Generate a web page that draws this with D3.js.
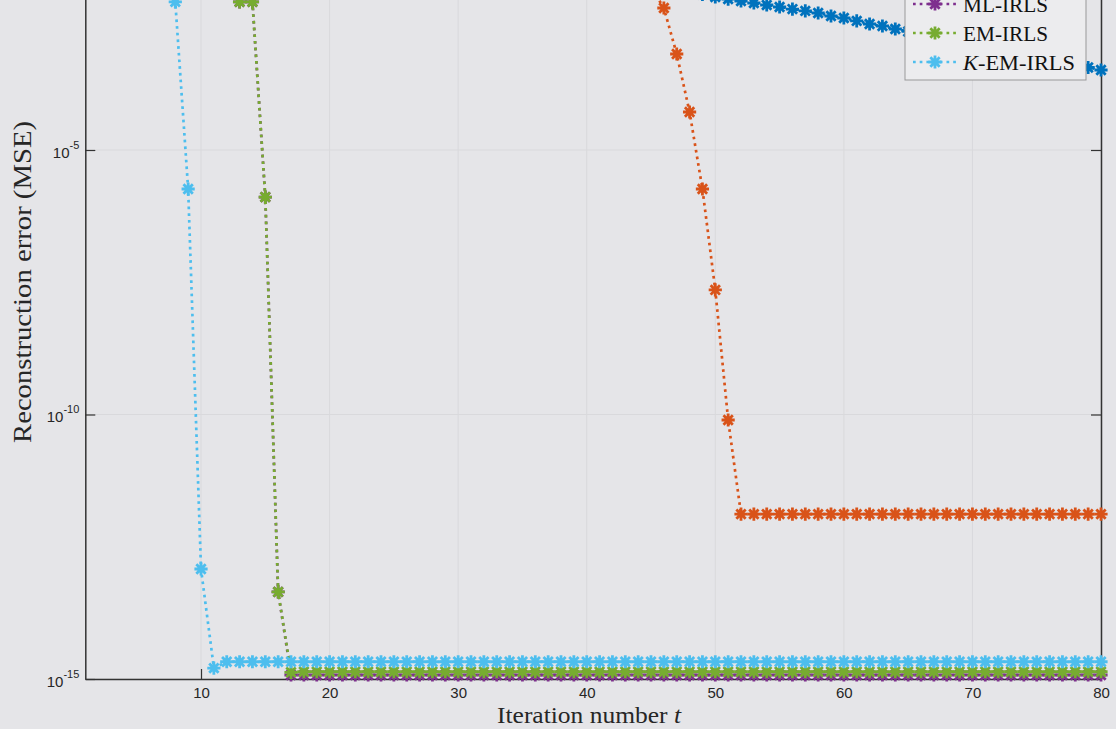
<!DOCTYPE html>
<html><head><meta charset="utf-8">
<script src="https://cdn.jsdelivr.net/npm/d3@7"></script>
<style>html,body{margin:0;padding:0;background:#e5e5e8;} svg{display:block}</style>
</head><body><svg id="c" width="1116" height="729"></svg>
<script>
// ---------------- data ----------------
const iterations = d3.range(1, 81);
const xTicks = [10, 20, 30, 40, 50, 60, 70, 80];
const yTicks = [1e-15, 1e-10, 1e-5, 1e0];
const yTickExp = ["-15", "-10", "-5", ""];
const legendNames = ["ML-IRLS", "EM-IRLS", "K-EM-IRLS"];

const series1MSE = [
  1.6, 1.45, 1.3, 1.17, 1.05, 9.4e-1, 8.5e-1, 7.6e-1, 6.8e-1, 6.1e-1,
  5.5e-1, 4.9e-1, 4.4e-1, 3.95e-1, 3.55e-1, 3.2e-1, 2.85e-1, 2.55e-1, 2.3e-1, 2.05e-1,
  1.84e-1, 1.65e-1, 1.48e-1, 1.33e-1, 1.19e-1, 1.07e-1, 9.6e-2, 8.6e-2, 7.7e-2, 6.9e-2,
  6.2e-2, 5.6e-2, 5.0e-2, 4.5e-2, 4.0e-2, 3.6e-2, 3.2e-2, 2.9e-2, 2.6e-2, 2.3e-2,
  2.07e-2, 1.86e-2, 1.67e-2, 1.5e-2, 1.34e-2, 1.2e-2, 1.08e-2, 9.7e-3, 8.7e-3, 7.8e-3,
  7.14e-3, 6.56e-3, 6.01e-3, 5.51e-3, 5.05e-3, 4.62e-3, 4.25e-3, 3.89e-3, 3.41e-3, 3.13e-3,
  2.75e-3, 2.41e-3, 2.21e-3, 1.94e-3, 1.74e-3, 1.56e-3, 1.40e-3, 1.25e-3, 1.12e-3, 1.01e-3,
  8.85e-4, 7.94e-4, 7.13e-4, 6.38e-4, 5.73e-4, 5.13e-4, 4.61e-4, 4.05e-4, 3.63e-4, 3.25e-4
];
const series2MSE = [
  5.0e-1, 4.3e-1, 3.8e-1, 3.4e-1, 3.0e-1, 2.7e-1, 2.4e-1, 2.2e-1, 2.0e-1, 1.8e-1,
  1.65e-1, 1.5e-1, 1.38e-1, 1.27e-1, 1.17e-1, 1.08e-1, 1.0e-1, 9.3e-2, 8.7e-2, 8.1e-2,
  7.6e-2, 7.1e-2, 6.7e-2, 6.3e-2, 5.9e-2, 5.6e-2, 5.3e-2, 5.0e-2, 4.7e-2, 4.5e-2,
  4.3e-2, 4.1e-2, 3.9e-2, 3.7e-2, 3.5e-2, 3.3e-2, 3.1e-2, 2.9e-2, 2.7e-2, 2.5e-2,
  2.3e-2, 2.1e-2, 1.9e-2, 1.6e-2, 1.2e-2, 4.83e-3, 6.53e-4, 5.23e-5, 1.83e-6, 2.26e-8,
  7.87e-11, 1.31e-12, 1.31e-12, 1.31e-12, 1.31e-12, 1.31e-12, 1.31e-12, 1.31e-12, 1.31e-12, 1.31e-12,
  1.31e-12, 1.31e-12, 1.31e-12, 1.31e-12, 1.31e-12, 1.31e-12, 1.31e-12, 1.31e-12, 1.31e-12, 1.31e-12,
  1.31e-12, 1.31e-12, 1.31e-12, 1.31e-12, 1.31e-12, 1.31e-12, 1.31e-12, 1.31e-12, 1.31e-12, 1.31e-12
];
const mlIrlsMSE = [
  8.0e-1, 6.0e-1, 4.5e-1, 3.4e-1, 2.6e-1, 2.0e-1, 1.5e-1, 1.1e-1, 8.0e-2, 5.5e-2,
  3.6e-2, 2.2e-2, 6.3e-3, 6.3e-3, 1.29e-6, 4.42e-14, 1.19e-15, 1.19e-15, 1.19e-15, 1.19e-15,
  1.19e-15, 1.19e-15, 1.19e-15, 1.19e-15, 1.19e-15, 1.19e-15, 1.19e-15, 1.19e-15, 1.19e-15, 1.19e-15,
  1.19e-15, 1.19e-15, 1.19e-15, 1.19e-15, 1.19e-15, 1.19e-15, 1.19e-15, 1.19e-15, 1.19e-15, 1.19e-15,
  1.19e-15, 1.19e-15, 1.19e-15, 1.19e-15, 1.19e-15, 1.19e-15, 1.19e-15, 1.19e-15, 1.19e-15, 1.19e-15,
  1.19e-15, 1.19e-15, 1.19e-15, 1.19e-15, 1.19e-15, 1.19e-15, 1.19e-15, 1.19e-15, 1.19e-15, 1.19e-15,
  1.19e-15, 1.19e-15, 1.19e-15, 1.19e-15, 1.19e-15, 1.19e-15, 1.19e-15, 1.19e-15, 1.19e-15, 1.19e-15,
  1.19e-15, 1.19e-15, 1.19e-15, 1.19e-15, 1.19e-15, 1.19e-15, 1.19e-15, 1.19e-15, 1.19e-15, 1.19e-15
];
const emIrlsMSE = [
  8.0e-1, 6.0e-1, 4.5e-1, 3.4e-1, 2.6e-1, 2.0e-1, 1.5e-1, 1.1e-1, 8.0e-2, 5.5e-2,
  3.6e-2, 2.2e-2, 6.3e-3, 6.3e-3, 1.29e-6, 4.42e-14, 1.34e-15, 1.37e-15, 1.37e-15, 1.37e-15,
  1.37e-15, 1.37e-15, 1.37e-15, 1.37e-15, 1.37e-15, 1.37e-15, 1.37e-15, 1.37e-15, 1.37e-15, 1.37e-15,
  1.37e-15, 1.37e-15, 1.37e-15, 1.37e-15, 1.37e-15, 1.37e-15, 1.37e-15, 1.37e-15, 1.37e-15, 1.37e-15,
  1.37e-15, 1.37e-15, 1.37e-15, 1.37e-15, 1.37e-15, 1.37e-15, 1.37e-15, 1.37e-15, 1.37e-15, 1.37e-15,
  1.37e-15, 1.37e-15, 1.37e-15, 1.37e-15, 1.37e-15, 1.37e-15, 1.37e-15, 1.37e-15, 1.37e-15, 1.37e-15,
  1.37e-15, 1.37e-15, 1.37e-15, 1.37e-15, 1.37e-15, 1.37e-15, 1.37e-15, 1.37e-15, 1.37e-15, 1.37e-15,
  1.37e-15, 1.37e-15, 1.37e-15, 1.37e-15, 1.37e-15, 1.37e-15, 1.37e-15, 1.37e-15, 1.37e-15, 1.37e-15
];
const kEmIrlsMSE = [
  7.0e-1, 4.5e-1, 2.8e-1, 1.7e-1, 1.0e-1, 5.5e-2, 2.4e-2, 6.3e-3, 1.83e-6, 1.2e-13,
  1.61e-15, 2.12e-15, 2.12e-15, 2.12e-15, 2.12e-15, 2.12e-15, 2.12e-15, 2.12e-15, 2.12e-15, 2.12e-15,
  2.12e-15, 2.12e-15, 2.12e-15, 2.12e-15, 2.12e-15, 2.12e-15, 2.12e-15, 2.12e-15, 2.12e-15, 2.12e-15,
  2.12e-15, 2.12e-15, 2.12e-15, 2.12e-15, 2.12e-15, 2.12e-15, 2.12e-15, 2.12e-15, 2.12e-15, 2.12e-15,
  2.12e-15, 2.12e-15, 2.12e-15, 2.12e-15, 2.12e-15, 2.12e-15, 2.12e-15, 2.12e-15, 2.12e-15, 2.12e-15,
  2.12e-15, 2.12e-15, 2.12e-15, 2.12e-15, 2.12e-15, 2.12e-15, 2.12e-15, 2.12e-15, 2.12e-15, 2.12e-15,
  2.12e-15, 2.12e-15, 2.12e-15, 2.12e-15, 2.12e-15, 2.12e-15, 2.12e-15, 2.12e-15, 2.12e-15, 2.12e-15,
  2.12e-15, 2.12e-15, 2.12e-15, 2.12e-15, 2.12e-15, 2.12e-15, 2.12e-15, 2.12e-15, 2.12e-15, 2.12e-15
];

const seriesList = [
  {values: series1MSE, color: "#0072BD"},
  {values: series2MSE, color: "#D95319"},
  {values: mlIrlsMSE, color: "#7E2F8E"},
  {values: emIrlsMSE, color: "#77AC30"},
  {values: kEmIrlsMSE, color: "#4DBEEE"}
];

// ---------------- layout ----------------
const W = 1116, H = 729;
const L = 85.3, R = 1101, B = 679, decade = 52.9;
const T = B - 15 * decade;
const svg = d3.select("#c");
svg.append("rect").attr("width", W).attr("height", H).attr("fill", "#e5e5e8");

const x = d3.scaleLinear().domain([1, 80]).range([L, R]);
const y = d3.scaleLog().domain([1e-15, 1e0]).range([B, T]);

// grid (very faint)
const grid = svg.append("g").attr("stroke", "#d9d9dc").attr("stroke-width", 1);
grid.selectAll("line.gx").data(xTicks).join("line")
  .attr("x1", d => x(d)).attr("x2", d => x(d)).attr("y1", T).attr("y2", B);
grid.selectAll("line.gy").data(yTicks).join("line")
  .attr("x1", L).attr("x2", R).attr("y1", d => y(d)).attr("y2", d => y(d));

// axes
const axisColor = "#333";
function styleAxis(g) {
  g.selectAll("path.domain").attr("stroke", axisColor).attr("stroke-width", 1.5);
  g.selectAll(".tick line").attr("stroke", axisColor).attr("stroke-width", 1.2);
}
const gx = svg.append("g").attr("transform", `translate(0,${B})`)
  .call(d3.axisBottom(x).tickValues(xTicks).tickSizeInner(-10).tickSizeOuter(0).tickPadding(12));
gx.call(styleAxis);
gx.selectAll(".tick text").attr("font-family", "Liberation Sans, Arial, sans-serif")
  .attr("font-size", 15).attr("fill", "#262626").attr("dy", null).attr("y", 19);

const gxt = svg.append("g").attr("transform", `translate(0,${T})`)
  .call(d3.axisTop(x).tickValues(xTicks).tickSizeInner(-10).tickSizeOuter(0).tickFormat(""));
gxt.call(styleAxis);

const gy = svg.append("g").attr("transform", `translate(${L},0)`)
  .call(d3.axisLeft(y).tickValues(yTicks).tickSizeInner(-10).tickSizeOuter(0).tickFormat(""));
gy.call(styleAxis);
gy.selectAll(".tick").filter((d, i) => yTickExp[i] !== "").each(function(d) {
  const i = yTicks.indexOf(d);
  const t = d3.select(this).append("text")
    .attr("x", -6).attr("y", 7).attr("text-anchor", "end")
    .attr("font-family", "Liberation Sans, Arial, sans-serif").attr("font-size", 15)
    .attr("fill", "#262626");
  t.append("tspan").text("10");
  t.append("tspan").attr("dy", -9).attr("font-size", 11).text(yTickExp[i]);
});

const gyr = svg.append("g").attr("transform", `translate(${R},0)`)
  .call(d3.axisRight(y).tickValues(yTicks).tickSizeInner(-10).tickSizeOuter(0).tickFormat(""));
gyr.call(styleAxis);

// series
const r = 6.6, dd = r * 0.7071;
const star = `M${-r},0H${r}M0,${-r}V${r}M${-dd},${-dd}L${dd},${dd}M${-dd},${dd}L${dd},${-dd}`;
const line = d3.line().x((d, i) => x(iterations[i])).y(d => y(d));

seriesList.forEach(s => {
  const g = svg.append("g");
  g.append("path").attr("d", line(s.values)).attr("fill", "none")
    .attr("stroke", s.color).attr("stroke-width", 2.7).attr("stroke-dasharray", "2.7,4");
  g.selectAll("path.m").data(s.values).join("path")
    .attr("d", star)
    .attr("transform", (d, i) => `translate(${x(iterations[i])},${y(d)})`)
    .attr("fill", "none").attr("stroke", s.color).attr("stroke-width", 2.8);
});

// legend
const lg = svg.append("g");
lg.append("rect").attr("x", 905).attr("y", -70).attr("width", 181).attr("height", 150)
  .attr("fill", "#ececee").attr("stroke", "#999").attr("stroke-width", 1);
const legendSeries = seriesList.slice(2);
const legendY = [4, 33, 62];
const legendLen = [85, 85, 112];
legendSeries.forEach((s, i) => {
  const yy = legendY[i];
  lg.append("line").attr("x1", 913).attr("x2", 957).attr("y1", yy).attr("y2", yy)
    .attr("stroke", s.color).attr("stroke-width", 2.7).attr("stroke-dasharray", "2.7,4");
  lg.append("path").attr("d", star).attr("transform", `translate(935,${yy})`)
    .attr("fill", "none").attr("stroke", s.color).attr("stroke-width", 2.8);
  const t = lg.append("text").attr("x", 963).attr("y", yy + 7.5)
    .attr("font-family", "Liberation Serif, Times New Roman, serif").attr("font-size", 21.5)
    .attr("fill", "#111")
    .attr("textLength", legendLen[i]).attr("lengthAdjust", "spacingAndGlyphs");
  if (legendNames[i].startsWith("K-")) {
    t.append("tspan").attr("font-style", "italic").text("K");
    t.append("tspan").text(legendNames[i].slice(1));
  } else {
    t.text(legendNames[i]);
  }
});

// labels
const xl = svg.append("text").attr("x", 497).attr("y", 723)
  .attr("font-family", "Liberation Serif, Times New Roman, serif").attr("font-size", 24)
  .attr("fill", "#262626")
  .attr("textLength", 184).attr("lengthAdjust", "spacingAndGlyphs");
xl.append("tspan").text("Iteration number ");
xl.append("tspan").attr("font-style", "italic").text("t");

svg.append("text")
  .attr("transform", "translate(31,443) rotate(-90)")
  .attr("font-family", "Liberation Serif, Times New Roman, serif").attr("font-size", 25)
  .attr("fill", "#262626")
  .attr("textLength", 322).attr("lengthAdjust", "spacingAndGlyphs")
  .text("Reconstruction error (MSE)");
</script></body></html>
